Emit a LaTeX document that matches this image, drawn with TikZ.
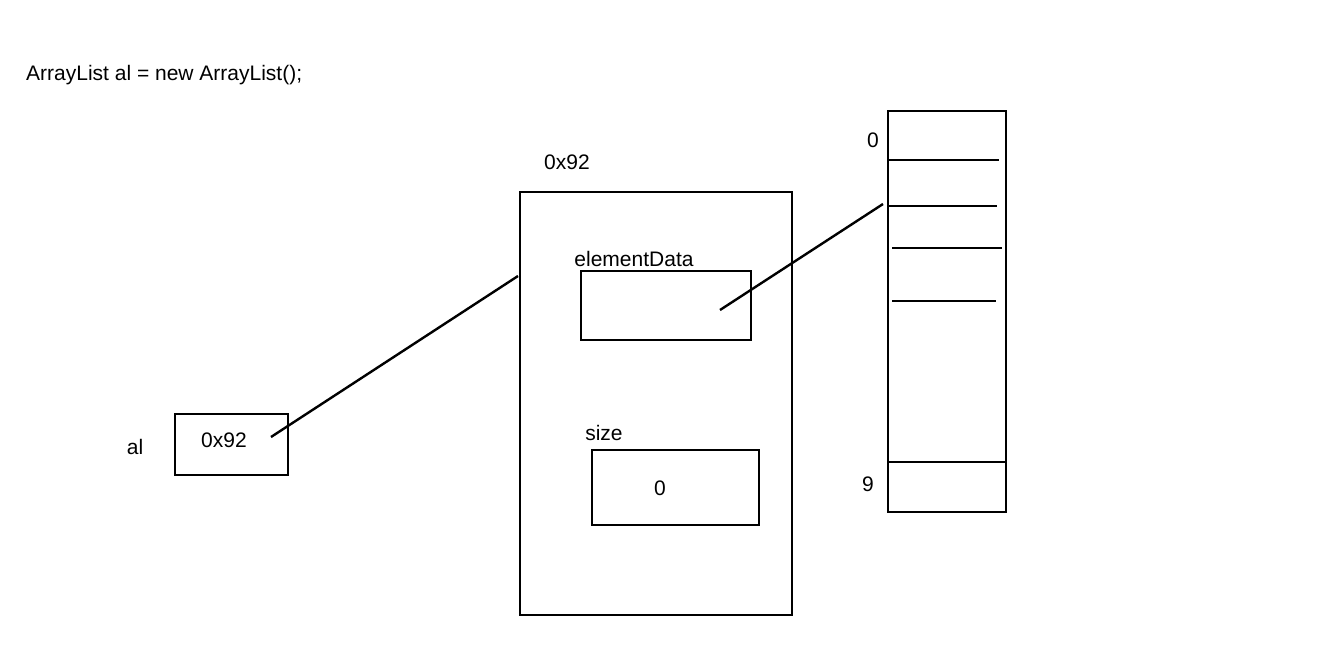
\documentclass[tikz,border=0pt]{standalone}
\usepackage{fontspec}
\setmainfont{Liberation Sans}
\begin{document}
\begin{tikzpicture}[x=1pt,y=-1pt,line width=2.4pt,
  lbl/.style={font=\fontsize{21}{24}\selectfont,inner sep=0pt},
  box/.style={draw,inner sep=0pt}]
\useasboundingbox (0,0) rectangle (1338,654);
\node[lbl,anchor=west] (code) at (25,75) {ArrayList al = new ArrayList();};
\node[box,minimum width=272,minimum height=423,anchor=north west] (obj) at (519,191) {};
\node[lbl] (addr) at (567,162) {0x92};
\node[lbl] (edl) at (634,259) {elementData};
\node[box,minimum width=170,minimum height=69,anchor=north west] (ed) at (580,270) {};
\node[lbl] (sl) at (604,433) {size};
\node[box,minimum width=167,minimum height=75,anchor=north west] (sz) at (591,449) {};
\node[lbl] (zero) at (660,488) {0};
\node[box,minimum width=113,minimum height=61,anchor=north west] (al) at (174,413) {};
\node[lbl] (alv) at (224,440) {0x92};
\node[lbl] (aln) at (135,447) {al};
\node[box,minimum width=118,minimum height=401,anchor=north west] (arr) at (887,110) {};
\node[lbl] (i0) at (873,140) {0};
\node[lbl] (i9) at (868,484) {9};
\coordinate (p1) at (271,437); \coordinate (p2) at (518,276);
\coordinate (q1) at (720,310); \coordinate (q2) at (883,204);
\draw (p1) -- (p2);
\draw (q1) -- (q2);
\draw (889,160) -- (999,160);
\draw (889,206) -- (997,206);
\draw (892,248) -- (1002,248);
\draw (892,301) -- (996,301);
\draw (887,462) -- (1005,462);
\end{tikzpicture}
\end{document}
